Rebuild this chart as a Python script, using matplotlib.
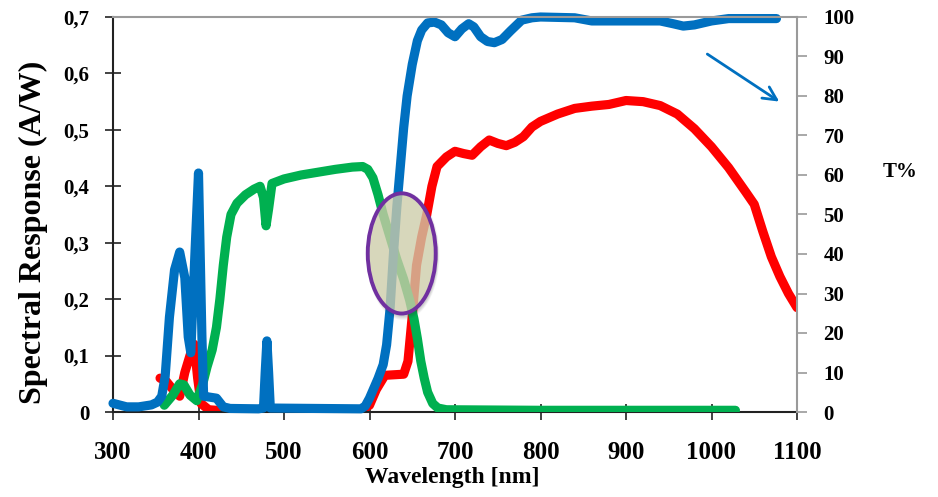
import matplotlib
matplotlib.use("Agg")
import matplotlib.pyplot as plt
from matplotlib.patches import Ellipse
from matplotlib.ticker import FixedLocator, FuncFormatter

# Spectral response of the red-sensitive detector (A/W)
red_wl = [355, 362, 370, 378, 384, 390, 395, 399, 403, 412, 430, 500, 590, 600, 608,
          618, 640, 645, 650, 655, 661, 667, 673, 679, 690, 700, 710, 720, 730, 740,
          750, 760, 770, 780, 790, 800, 820, 840, 860, 880, 900, 920, 940, 960, 980,
          1000, 1020, 1040, 1050, 1060, 1070, 1080, 1090, 1100]
red_sr = [0.060, 0.055, 0.040, 0.028, 0.070, 0.100, 0.120, 0.060, 0.015, 0.004, 0.002,
          0.002, 0.003, 0.012, 0.040, 0.065, 0.067, 0.090, 0.170, 0.260, 0.310, 0.350,
          0.400, 0.435, 0.452, 0.462, 0.458, 0.455, 0.470, 0.482, 0.476, 0.472, 0.478,
          0.488, 0.505, 0.515, 0.528, 0.538, 0.542, 0.545, 0.552, 0.550, 0.543, 0.528,
          0.502, 0.470, 0.433, 0.390, 0.368, 0.320, 0.275, 0.240, 0.210, 0.185]

# Spectral response of the green-sensitive detector (A/W)
green_wl = [360, 370, 378, 383, 390, 398, 405, 410, 416, 421, 425, 429, 433, 438, 445,
            455, 465, 472, 476, 479, 482, 486, 500, 520, 540, 560, 580, 592, 598, 604,
            610, 616, 624, 632, 640, 647, 652, 656, 660, 664, 668, 674, 680, 690, 800,
            1028]
green_sr = [0.012, 0.030, 0.050, 0.048, 0.030, 0.020, 0.050, 0.080, 0.110, 0.150, 0.200,
            0.260, 0.310, 0.350, 0.370, 0.385, 0.395, 0.400, 0.380, 0.330, 0.360, 0.405,
            0.413, 0.420, 0.425, 0.430, 0.434, 0.435, 0.430, 0.415, 0.385, 0.350, 0.310,
            0.270, 0.235, 0.198, 0.165, 0.130, 0.090, 0.060, 0.035, 0.015, 0.007, 0.004,
            0.003, 0.003]

# Filter transmittance (T%)
blue_wl = [300, 316, 330, 345, 352, 357, 361, 366, 372, 378, 384, 388, 391, 396, 400,
           404, 406, 412, 421, 429, 437, 470, 476, 478, 480, 482, 484, 590, 595, 600,
           605, 610, 616, 620, 624, 628, 632, 636, 640, 644, 650, 656, 661, 668, 676,
           684, 692, 700, 708, 716, 722, 730, 738, 746, 755, 765, 778, 790, 800, 840,
           860, 900, 940, 955, 967, 980, 1000, 1020, 1076]
blue_t = [2.2, 1.3, 1.3, 1.8, 2.5, 4.0, 9.0, 24.0, 36.0, 40.5, 34.0, 19.0, 15.0, 41.0,
          60.5, 19.0, 4.0, 3.8, 3.5, 1.3, 0.9, 0.8, 1.0, 10.0, 18.0, 10.0, 1.0, 0.8, 1.5,
          3.5, 6.0, 8.5, 12.0, 17.0, 26.0, 40.0, 52.0, 62.0, 72.0, 80.0, 88.0, 94.0, 96.7,
          98.5, 98.7, 98.0, 96.0, 95.0, 97.0, 98.3, 97.5, 95.0, 93.8, 93.5, 94.3, 96.5,
          99.2, 99.8, 100.0, 99.8, 99.0, 99.0, 99.0, 98.3, 97.7, 98.0, 99.0, 99.6, 99.6]

x_ticks = [300, 400, 500, 600, 700, 800, 900, 1000, 1100]
sr_ticks = [0, 0.1, 0.2, 0.3, 0.4, 0.5, 0.6, 0.7]
t_ticks = [0, 10, 20, 30, 40, 50, 60, 70, 80, 90, 100]

FONT = "Liberation Serif"
plt.rcParams["font.family"] = FONT
plt.rcParams["font.weight"] = "bold"

fig = plt.figure(figsize=(9.38, 4.97), dpi=100)
ax = fig.add_axes([113 / 938, 1 - 412 / 497, 684 / 938, 395 / 497])
ax2 = ax.twinx()

line_kw = dict(lw=6.6, solid_capstyle="round", solid_joinstyle="round")
ax.plot(red_wl, red_sr, color="#FF0000", zorder=2, **line_kw)
ax.plot(green_wl, green_sr, color="#00B050", zorder=3, **line_kw)
ax2.plot(blue_wl, blue_t, color="#0070C0", zorder=2, clip_on=False, **line_kw)

ax.set_xlim(300, 1100)
ax.set_ylim(0, 0.7)
ax2.set_ylim(0, 100)

ax.xaxis.set_major_locator(FixedLocator(x_ticks))
ax.yaxis.set_major_locator(FixedLocator(sr_ticks))
ax2.yaxis.set_major_locator(FixedLocator(t_ticks))
ax.yaxis.set_major_formatter(FuncFormatter(
    lambda v, p: "0" if abs(v) < 1e-9 else f"{v:.1f}".replace(".", ",")))

ax.tick_params(axis="x", labelsize=18)
ax.tick_params(axis="y", labelsize=15)
ax2.tick_params(axis="y", labelsize=15)
for lab in ax.get_xticklabels() + ax.get_yticklabels() + ax2.get_yticklabels():
    lab.set_fontweight("bold")

ax.tick_params(axis="both", direction="inout", length=12, width=1.2, color="#222222")
ax.tick_params(axis="y", pad=11)
ax.tick_params(axis="x", pad=15)
ax2.tick_params(axis="y", direction="out", length=7, width=1.2, color="#999999", pad=12)

for s in ["left", "bottom"]:
    ax.spines[s].set_color("#222222")
    ax.spines[s].set_linewidth(1.5)
for s in ["top", "right"]:
    ax.spines[s].set_visible(False)
ax2.spines["left"].set_visible(False)
ax2.spines["bottom"].set_visible(False)
ax2.spines["top"].set_color("#9a9a9a")
ax2.spines["top"].set_linewidth(1.5)
ax2.spines["right"].set_color("#9a9a9a")
ax2.spines["right"].set_linewidth(1.5)

# Highlight where the transmittance edge crosses both detector responses
cx, cy, w, h = 637.7, 0.281, 79.5, 0.213
for i, a in enumerate([0.05, 0.06, 0.07, 0.08]):
    grow = 1.0 + 0.07 * (4 - i) / 4
    ax2.add_patch(Ellipse((cx + 1.5, cy - 0.004), w * grow, h * grow,
                          transform=ax.transData, facecolor="#303030", alpha=a,
                          edgecolor="none", zorder=4))
ax2.add_patch(Ellipse((cx, cy), w, h, transform=ax.transData,
                      facecolor="#DCDBB4", alpha=0.72, edgecolor="none", zorder=5))
ax2.add_patch(Ellipse((cx, cy), w, h, transform=ax.transData,
                      facecolor="none", edgecolor="#7030A0", lw=2.8, zorder=6))

ax2.annotate("", xy=(1082, 78.2), xytext=(992.4, 91),
             arrowprops=dict(arrowstyle="->", color="#0070C0", lw=2,
                             mutation_scale=24), zorder=7)

fig.text(33 / 938, 1 - 232 / 497, "Spectral Response (A/W)", rotation=90,
         ha="center", va="center", fontsize=23, fontweight="bold")
fig.text(452 / 938, 1 - 478 / 497, "Wavelength [nm]", ha="center", va="center",
         fontsize=17, fontweight="bold")
fig.text(900 / 938, 1 - 172 / 497, "T%", ha="center", va="center",
         fontsize=15, fontweight="bold")

fig.savefig("out.png", dpi=100)
